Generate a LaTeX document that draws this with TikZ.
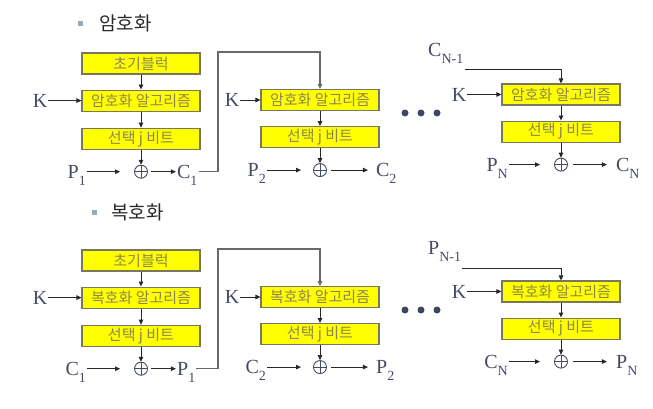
\documentclass[tikz,border=0pt]{standalone}
\usepackage{fontspec}
\setmainfont{Liberation Serif}
\newfontfamily\kor{Noto Sans CJK KR}
\usetikzlibrary{arrows.meta,positioning,calc}

\definecolor{boxyellow}{RGB}{255,255,0}
\definecolor{boxedge}{RGB}{120,120,95}
\definecolor{boxtext}{RGB}{140,134,78}
\definecolor{labelc}{RGB}{70,75,100}
\definecolor{linec}{RGB}{40,40,40}
\definecolor{loopc}{RGB}{105,105,105}
\definecolor{dotc}{RGB}{60,72,98}
\definecolor{bullc}{RGB}{150,170,185}
\definecolor{titlec}{RGB}{40,40,40}

\newcommand{\lowsub}[1]{\raisebox{-0.35em}{\fontsize{14}{14}\selectfont #1}}

\begin{document}
\begin{tikzpicture}[
  x=1pt, y=-1pt,
  blk/.style={draw=boxedge, fill=boxyellow, line width=1.1pt, minimum width=118pt, minimum height=21pt, inner sep=0pt, text=boxtext, font=\kor\fontsize{15}{15}\selectfont},
  lbl/.style={text=labelc, font=\fontsize{20}{20}\selectfont, inner sep=1pt, text depth=0pt},
  head/.style={text=titlec, font=\kor\fontsize{19}{19}\selectfont, inner sep=0pt},
  bul/.style={fill=bullc, minimum size=5pt, inner sep=0pt},
  xor/.style={circle, draw=labelc, line width=0.9pt, minimum size=13pt, inner sep=0pt,
    path picture={\draw[labelc, line width=0.9pt] (path picture bounding box.north) -- (path picture bounding box.south)
      (path picture bounding box.west) -- (path picture bounding box.east);}},
  dot/.style={circle, fill=dotc, minimum size=7pt, inner sep=0pt},
  arr/.style={-{Triangle[length=5pt,width=4.5pt]}, line width=0.9pt, draw=linec},
  fb/.style={arr, draw=loopc, line width=1.2pt}
]
\useasboundingbox (0,0) rectangle (653,409);

% Encryption heading
\node[bul] (ebul) at (80,24) {};
\node[head, anchor=west] (etitle) at (99,23) {암호화};

% Encryption, first block
\node[blk] (e1init) at (141,63.5) {초기블럭};
\node[blk, below=15pt of e1init] (e1alg) {암호화 알고리즘};
\node[blk, below=16pt of e1alg] (e1sel) {선택 j 비트};
\node[xor, below=15pt of e1sel] (e1x) {};
\node[lbl, left=33pt of e1alg] (e1k) {K};
\node[lbl, left=47pt of e1x] (e1p) {P\lowsub{1}};
\node[lbl, right=28pt of e1x] (e1c) {C\lowsub{1}};

\draw[arr] (e1init) -- (e1alg);
\draw[arr] (e1alg) -- (e1sel);
\draw[arr] (e1sel) -- (e1x);
\draw[arr] (e1k) -- (e1alg);
\draw[arr, shorten >=14pt] (e1p) -- (e1x);
\draw[arr, shorten <=3pt] (e1x) -- (e1c);

% Encryption, second block
\node[blk] (e2alg) at (320,100) {암호화 알고리즘};
\node[blk, below=15pt of e2alg] (e2sel) {선택 j 비트};
\node[xor, below=15pt of e2sel] (e2x) {};
\node[lbl, left=20pt of e2alg] (e2k) {K};
\node[lbl, left=46pt of e2x] (e2p) {P\lowsub{2}};
\node[lbl, right=48pt of e2x] (e2c) {C\lowsub{2}};

\draw[arr] (e2alg) -- (e2sel);
\draw[arr] (e2sel) -- (e2x);
\draw[arr] (e2k) -- (e2alg);
\draw[arr, shorten >=12pt] (e2p) -- (e2x);
\draw[arr, shorten <=4pt, shorten >=7pt] (e2x) -- (e2c);

% C1 fed back into the next block
\coordinate (e1turn) at (218,52);
\draw[fb] (e1c.east) -| (e1turn) -| (e2alg.north);

% dots
\node[dot] (edot1) at (405,113) {};
\node[dot] (edot2) at (421,113) {};
\node[dot] (edot3) at (437,113) {};

% Encryption, last block
\node[blk] (e3alg) at (561,94.5) {암호화 알고리즘};
\node[blk, below=15pt of e3alg] (e3sel) {선택 j 비트};
\node[xor, below=15pt of e3sel] (e3x) {};
\node[lbl, left=34pt of e3alg] (e3k) {K};
\node[lbl, left=45pt of e3x] (e3p) {P\lowsub{N}};
\node[lbl, right=47pt of e3x] (e3c) {C\lowsub{N}};
\node[lbl, anchor=west] (e3prev) at (427,50) {C\lowsub{N-1}};
\coordinate (e3in) at ($(e3prev.south east)+(0,12)$);

\draw[arr] (e3in) -| (e3alg.north);
\draw[arr] (e3alg) -- (e3sel);
\draw[arr] (e3sel) -- (e3x);
\draw[arr] (e3k) -- (e3alg);
\draw[arr, shorten >=14pt] (e3p) -- (e3x);
\draw[arr, shorten <=5pt, shorten >=8pt] (e3x) -- (e3c);

% Decryption heading
\node[bul] (dbul) at (94,212) {};
\node[head, anchor=west] (dtitle) at (111,212) {복호화};

% Decryption, first block
\node[blk] (d1init) at (141,260.5) {초기블럭};
\node[blk, below=15pt of d1init] (d1alg) {복호화 알고리즘};
\node[blk, below=16pt of d1alg] (d1sel) {선택 j 비트};
\node[xor, below=15pt of d1sel] (d1x) {};
\node[lbl, left=33pt of d1alg] (d1k) {K};
\node[lbl, left=47pt of d1x] (d1c) {C\lowsub{1}};
\node[lbl, right=28pt of d1x] (d1p) {P\lowsub{1}};

\draw[arr] (d1init) -- (d1alg);
\draw[arr] (d1alg) -- (d1sel);
\draw[arr] (d1sel) -- (d1x);
\draw[arr] (d1k) -- (d1alg);
\draw[arr, shorten >=14pt] (d1c) -- (d1x);
\draw[arr, shorten <=3pt] (d1x) -- (d1p);

% Decryption, second block
\node[blk] (d2alg) at (320,297) {복호화 알고리즘};
\node[blk, below=15pt of d2alg] (d2sel) {선택 j 비트};
\node[xor, below=15pt of d2sel] (d2x) {};
\node[lbl, left=20pt of d2alg] (d2k) {K};
\node[lbl, left=46pt of d2x] (d2c) {C\lowsub{2}};
\node[lbl, right=48pt of d2x] (d2p) {P\lowsub{2}};

\draw[arr] (d2alg) -- (d2sel);
\draw[arr] (d2sel) -- (d2x);
\draw[arr] (d2k) -- (d2alg);
\draw[arr, shorten >=12pt] (d2c) -- (d2x);
\draw[arr, shorten <=4pt, shorten >=7pt] (d2x) -- (d2p);

% P1 fed back into the next block
\coordinate (d1turn) at (218,249);
\draw[fb] (d1p.east) -| (d1turn) -| (d2alg.north);

% dots
\node[dot] (ddot1) at (405,310) {};
\node[dot] (ddot2) at (421,310) {};
\node[dot] (ddot3) at (437,310) {};

% Decryption, last block
\node[blk] (d3alg) at (561,291.5) {복호화 알고리즘};
\node[blk, below=15pt of d3alg] (d3sel) {선택 j 비트};
\node[xor, below=15pt of d3sel] (d3x) {};
\node[lbl, left=34pt of d3alg] (d3k) {K};
\node[lbl, left=45pt of d3x] (d3c) {C\lowsub{N}};
\node[lbl, right=47pt of d3x] (d3p) {P\lowsub{N}};
\node[lbl, anchor=west] (d3prev) at (427,248) {P\lowsub{N-1}};
\coordinate (d3in) at ($(d3prev.south east)+(0,13)$);

\draw[arr] (d3in) -| (d3alg.north);
\draw[arr] (d3alg) -- (d3sel);
\draw[arr] (d3sel) -- (d3x);
\draw[arr] (d3k) -- (d3alg);
\draw[arr, shorten >=14pt] (d3c) -- (d3x);
\draw[arr, shorten <=5pt, shorten >=8pt] (d3x) -- (d3p);

\end{tikzpicture}
\end{document}
